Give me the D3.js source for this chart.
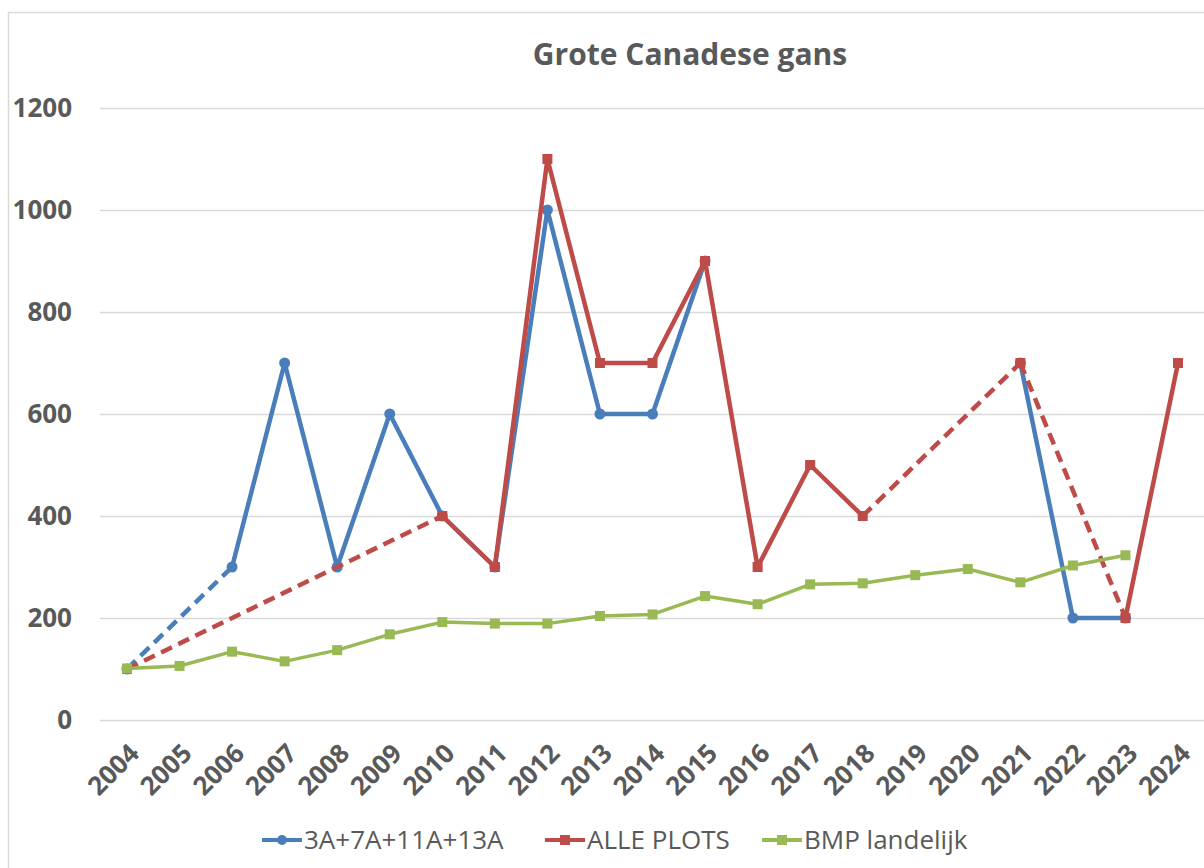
<!DOCTYPE html>
<html>
<head>
<meta charset="utf-8">
<script src="https://cdn.jsdelivr.net/npm/d3@7"></script>
<style>
  html, body { margin: 0; padding: 0; background: #fff; }
  svg { display: block; }
  text { font-family: "Open Sans", "DejaVu Sans", sans-serif; fill: #595959; }
</style>
</head>
<body>
<svg id="chart" width="1204" height="868"></svg>
<script>
const years = ["2004","2005","2006","2007","2008","2009","2010","2011","2012","2013","2014","2015","2016","2017","2018","2019","2020","2021","2022","2023","2024"];
const yTicks = [0, 200, 400, 600, 800, 1000, 1200];

const blueName = "3A+7A+11A+13A";
const blueValues = [100, null, 300, 700, 300, 600, 400, 300, 1000, 600, 600, 900, null, null, null, null, null, 700, 200, 200, null];
const blueBridges = [["2004", "2006"]];

const redName = "ALLE PLOTS";
const redValues = [100, null, null, null, null, null, 400, 300, 1100, 700, 700, 900, 300, 500, 400, null, null, 700, null, 200, 700];
const redBridges = [["2004", "2010"], ["2018", "2021"], ["2021", "2023"]];

const greenName = "BMP landelijk";
const greenValues = [101, 106, 134, 115, 137, 168, 192, 189, 189, 204, 207, 243, 227, 266, 268, 284, 296, 270, 303, 323, null];

const title = "Grote Canadese gans";

const colors = { blue: "#4A7EBB", red: "#BE4B48", green: "#98B954" };

const svg = d3.select("#chart");

// chart border
svg.append("rect").attr("x", 8.5).attr("y", 12.5).attr("width", 1400).attr("height", 1000)
  .attr("fill", "none").attr("stroke", "#d9d9d9").attr("stroke-width", 1.5);

const x = d3.scalePoint().domain(years).range([100.7, 1204.3]).padding(0.5);
const y = d3.scaleLinear().domain([0, 1200]).range([720, 108]);

// gridlines
svg.append("g").selectAll("line").data(yTicks).join("line")
  .attr("x1", 100).attr("x2", 1204)
  .attr("y1", d => y(d) + 0.5).attr("y2", d => y(d) + 0.5)
  .attr("stroke", "#d9d9d9").attr("stroke-width", 1.5);

// y axis labels
const yAxis = d3.axisLeft(y).tickValues(yTicks).tickFormat(d3.format("d")).tickSize(0).tickPadding(0);
const yg = svg.append("g").attr("transform", "translate(72,0)").call(yAxis);
yg.select(".domain").remove();
yg.selectAll("text").attr("font-size", 26).attr("font-weight", "bold")
  .style("font-family", "'Open Sans', sans-serif").attr("fill", "#595959").attr("dy", "0.33em");

// x axis labels
const xAxis = d3.axisBottom(x).tickSize(0).tickPadding(0);
const xg = svg.append("g").call(xAxis);
xg.select(".domain").remove();
xg.selectAll(".tick").attr("transform", d => `translate(${x(d) + 1},742)`);
xg.selectAll("text").attr("font-size", 26).attr("font-weight", "bold")
  .style("font-family", "'Open Sans', sans-serif").attr("fill", "#595959")
  .attr("text-anchor", "end").attr("y", 0).attr("dy", "0.7em")
  .attr("transform", "rotate(-45)");

// title
svg.append("text").attr("x", 690).attr("y", 65).attr("text-anchor", "middle")
  .attr("font-size", 30).attr("font-weight", "bold").text(title);

function pts(values) {
  return years.map((yr, i) => ({ yr, v: values[i] }));
}

function drawSeries(values, bridges, color, width, marker) {
  const g = svg.append("g");
  const data = pts(values);
  const line = d3.line().defined(d => d.v !== null).x(d => x(d.yr)).y(d => y(d.v));
  bridges.forEach(([a, b]) => {
    const seg = [data[years.indexOf(a)], data[years.indexOf(b)]];
    g.append("path").attr("d", line(seg)).attr("fill", "none").attr("stroke", color)
      .attr("stroke-width", width).attr("stroke-dasharray", "12,7");
  });
  g.append("path").attr("d", line(data)).attr("fill", "none").attr("stroke", color)
    .attr("stroke-width", width).attr("stroke-linejoin", "round");
  const valid = data.filter(d => d.v !== null);
  marker(g, valid);
}

function circles(color) {
  return (g, data) => g.selectAll("circle").data(data).join("circle")
    .attr("cx", d => x(d.yr)).attr("cy", d => y(d.v)).attr("r", 5.5).attr("fill", color);
}
function squares(color, s) {
  return (g, data) => g.selectAll("rect").data(data).join("rect")
    .attr("x", d => x(d.yr) - s / 2).attr("y", d => y(d.v) - s / 2)
    .attr("width", s).attr("height", s).attr("fill", color);
}

drawSeries(blueValues, blueBridges, colors.blue, 4.5, circles(colors.blue));
drawSeries(redValues, redBridges, colors.red, 4.5, squares(colors.red, 10));
drawSeries(greenValues, [], colors.green, 3.5, squares(colors.green, 10));

// legend
const legendItems = [
  { name: blueName, color: colors.blue, x0: 262, type: "circle" },
  { name: redName, color: colors.red, x0: 545, type: "square" },
  { name: greenName, color: colors.green, x0: 762, type: "square" }
];
const lg = svg.append("g");
legendItems.forEach(it => {
  lg.append("line").attr("x1", it.x0).attr("x2", it.x0 + 40).attr("y1", 840).attr("y2", 840)
    .attr("stroke", it.color).attr("stroke-width", 4);
  if (it.type === "circle") {
    lg.append("circle").attr("cx", it.x0 + 20).attr("cy", 840).attr("r", 5).attr("fill", it.color);
  } else {
    lg.append("rect").attr("x", it.x0 + 15).attr("y", 835).attr("width", 10).attr("height", 10).attr("fill", it.color);
  }
  lg.append("text").attr("x", it.x0 + 42).attr("y", 849).attr("font-size", 26).text(it.name);
});
</script>
</body>
</html>
